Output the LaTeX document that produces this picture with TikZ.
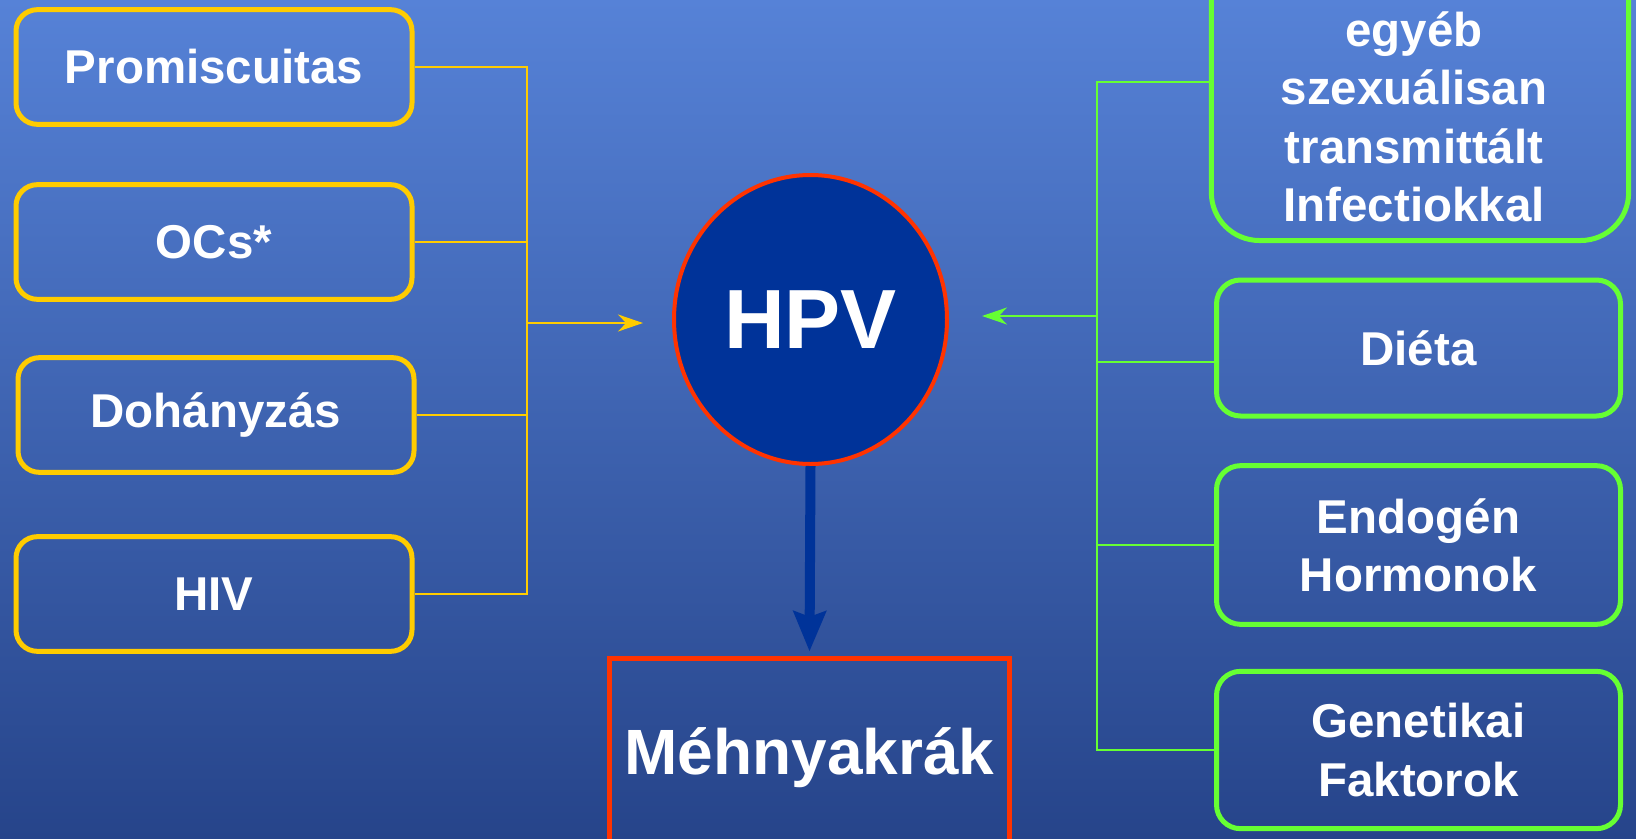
\documentclass[tikz,border=0pt]{standalone}
\usepackage{fontspec}
\setmainfont{Liberation Sans}
\usetikzlibrary{arrows.meta,shapes.geometric}

\definecolor{bgtop}{RGB}{86,130,215}
\definecolor{bgbot}{RGB}{38,68,138}
\definecolor{hpvyellow}{RGB}{255,204,0}
\definecolor{hpvgreen}{RGB}{102,255,51}
\definecolor{hpvred}{RGB}{255,51,0}
\definecolor{hpvnavy}{RGB}{0,51,153}

\newcommand{\boxfont}{\fontsize{35.6}{43.7}\selectfont\bfseries}

\tikzset{
  ybox/.style={draw=hpvyellow, line width=3.75pt, rounded corners=16pt, minimum width=297pt, minimum height=86pt, text=white, font=\boxfont},
  gbox/.style={draw=hpvgreen, line width=3.75pt, rounded corners=18pt, minimum width=303pt, text=white, font=\boxfont, align=center},
  yline/.style={draw=hpvyellow, line width=1.7pt},
  gline/.style={draw=hpvgreen, line width=1.9pt},
  smalltip/.style={-{Stealth[length=18.75pt,width=12.75pt]}},
}

\begin{document}
\begin{tikzpicture}[x=0.75pt,y=0.75pt,yscale=-1,xscale=1]
\useasboundingbox (0,0) rectangle (1636,839);
\clip (0,0) rectangle (1636,839);
%Background
\shade[top color=bgtop,bottom color=bgbot] (0,0) rectangle (1636,839);

%Left boxes
\node[ybox] (prom) at (214,67) {Promiscuitas};
\node[ybox] (ocs) at (214,242) {OCs*};
\node[ybox] (doh) at (216,415) {Dohányzás};
\node[ybox] (hiv) at (214,594) {HIV};

%HPV circle
\node[ellipse, draw=hpvred, fill=hpvnavy, line width=3pt, minimum width=204.75pt, minimum height=216.75pt, inner sep=0pt, text=white, font=\fontsize{63}{70}\selectfont\bfseries] (hpv) at (810.5,319.5) {HPV};

%Result box
\node[draw=hpvred, line width=3.75pt, minimum width=300pt, minimum height=148.8pt, anchor=north, text=white, font=\fontsize{48}{56}\selectfont\bfseries] (cancer) at (809.5,655.5) {Méhnyakrák};

%Right boxes
\node[gbox, rounded corners=36pt, minimum width=313pt, minimum height=300pt, anchor=south] (sti) at (1420,243) {};
\node[text=white, font=\boxfont, align=center, inner sep=0pt, anchor=south] (stitxt) at (1414,222) {egyéb\\szexuálisan\\transmittált\\Infectiokkal};
\node[gbox, minimum height=102pt] (dieta) at (1418.5,348) {Diéta};
\node[gbox, minimum height=119pt] (endo) at (1418.5,545) {Endogén\\Hormonok};
\node[gbox, minimum height=118pt] (gen) at (1418.5,750) {Genetikai\\Faktorok};

%Yellow connectors
\coordinate (ybus) at (527,0);
\coordinate (yin) at (643,323);
\draw[yline] (prom.east) -- (prom.east -| ybus) -- (hiv.east -| ybus) -- (hiv.east);
\draw[yline] (ocs.east) -- (ocs.east -| ybus);
\draw[yline] (doh.east) -- (doh.east -| ybus);
\draw[yline, smalltip] (ybus |- yin) -- (yin);

%Green connectors
\coordinate (gtop) at (1097,82);
\coordinate (gin) at (982,316);
\coordinate (dietain) at ([yshift=10.5pt]dieta.west);
\draw[gline] (gtop -| sti.west) -- (gtop) -- (gtop |- gen.west) -- (gen.west);
\draw[gline] (dietain) -- (gtop |- dietain);
\draw[gline] (endo.west) -- (gtop |- endo.west);
\draw[gline, smalltip] (gtop |- gin) -- (gin);

%Main arrow
\draw[hpvnavy, line width=7.5pt, shorten >=3pt, -{Stealth[length=30pt,width=24pt,inset=4pt]}] (hpv.south) -- (cancer.north);
\end{tikzpicture}
\end{document}
